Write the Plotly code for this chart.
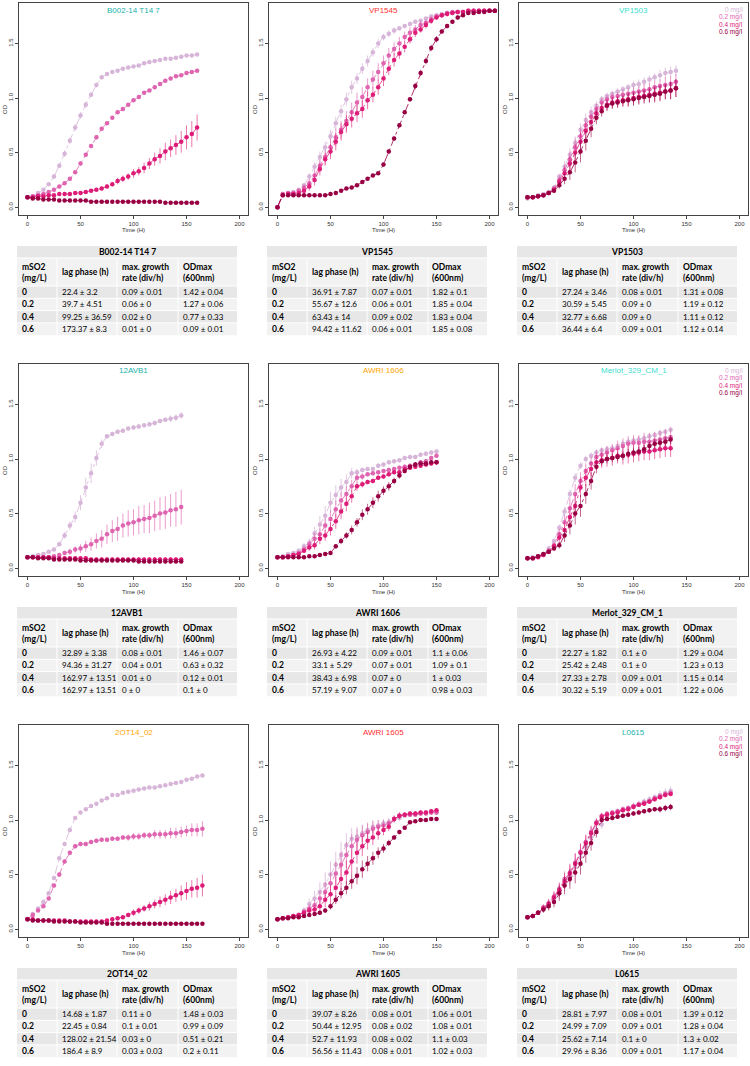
import plotly.graph_objects as go

W, H = 750, 1066
SERIES_COLORS = ["#d7b5d8", "#df65b0", "#dd1c77", "#980043"]
ERR_COLORS = ["rgba(215,181,216,0.75)", "rgba(223,101,176,0.65)", "rgba(221,28,119,0.6)", "rgba(152,0,67,0.6)"]
conc_labels = ["0 mg/l", "0.2 mg/l", "0.4 mg/l", "0.6 mg/l"]
row_labels = ["0", "0.2", "0.4", "0.6"]
x_ticks = [0, 50, 100, 150, 200]
y_ticks = [0.0, 0.5, 1.0, 1.5]
y_ticktext = ["0.0", "0.5", "1.0", "1.5"]

# ---------------- B002-14 T14 7 ----------------
t_B002 = [0,5,10,15,20,25,30,35,40,45,50,55,60,65,70,75,80,85,90,95,100,105,110,115,120,125,130,135,140,145,150,155,160]
B002_0 = [0.09,0.10,0.13,0.16,0.21,0.28,0.38,0.49,0.61,0.73,0.84,0.94,1.03,1.12,1.19,1.22,1.24,1.25,1.27,1.28,1.29,1.30,1.32,1.33,1.34,1.35,1.36,1.36,1.37,1.38,1.39,1.39,1.40]
B002_2 = [0.09,0.10,0.11,0.12,0.14,0.16,0.19,0.22,0.26,0.32,0.40,0.48,0.56,0.64,0.72,0.77,0.82,0.87,0.90,0.94,0.98,1.01,1.05,1.07,1.10,1.13,1.16,1.18,1.20,1.21,1.23,1.24,1.25]
B002_4 = [0.09,0.09,0.10,0.10,0.11,0.11,0.12,0.12,0.12,0.13,0.13,0.14,0.15,0.16,0.17,0.19,0.21,0.24,0.26,0.28,0.31,0.33,0.36,0.40,0.44,0.47,0.51,0.54,0.57,0.60,0.64,0.67,0.73]
B002_6 = [0.09,0.08,0.08,0.07,0.07,0.07,0.06,0.06,0.06,0.06,0.06,0.06,0.05,0.05,0.05,0.05,0.05,0.05,0.05,0.05,0.05,0.05,0.05,0.05,0.05,0.05,0.04,0.04,0.04,0.04,0.04,0.04,0.04]
B002_e0 = [0.01,0.01,0.01,0.01,0.01,0.02,0.02,0.03,0.03,0.03,0.03,0.03,0.02,0.02,0.02,0.01,0.01,0.01,0.01,0.01,0.01,0.01,0.01,0.01,0.01,0.01,0.01,0.01,0.01,0.01,0.01,0.01,0.01]
B002_e2 = [0.01,0.01,0.01,0.01,0.01,0.01,0.01,0.01,0.01,0.01,0.02,0.02,0.02,0.02,0.01,0.01,0.01,0.01,0.01,0.01,0.01,0.01,0.01,0.01,0.01,0.01,0.01,0.01,0.01,0.01,0.01,0.01,0.01]
B002_e4 = [0.01,0.01,0.01,0.01,0.01,0.01,0.01,0.01,0.01,0.01,0.01,0.01,0.01,0.01,0.02,0.02,0.02,0.03,0.03,0.03,0.04,0.04,0.05,0.05,0.06,0.07,0.08,0.08,0.09,0.10,0.11,0.12,0.12]
B002_e6 = [0.005,0.005,0.005,0.005,0.005,0.005,0.005,0.005,0.005,0.005,0.005,0.005,0.005,0.005,0.005,0.005,0.005,0.005,0.005,0.005,0.005,0.005,0.005,0.005,0.005,0.005,0.005,0.005,0.005,0.005,0.005,0.005,0.005]

# ---------------- VP1545 ----------------
t_VP1545 = [0,5,10,15,20,25,30,35,40,45,50,55,60,65,70,75,80,85,90,95,100,105,110,115,120,125,130,135,140,145,150,155,160,165,170,175,180,185,190,195,200,205]
VP1545_0 = [0.00,0.12,0.13,0.14,0.16,0.20,0.28,0.37,0.46,0.55,0.65,0.77,0.88,0.99,1.10,1.18,1.27,1.34,1.42,1.50,1.56,1.59,1.62,1.64,1.66,1.68,1.70,1.71,1.73,1.75,1.76,1.77,1.78,1.78,1.79,1.79,1.79,1.79,1.80,1.80,1.80,1.80]
VP1545_2 = [0.00,0.12,0.13,0.13,0.15,0.18,0.22,0.29,0.38,0.46,0.55,0.64,0.71,0.79,0.87,0.96,1.01,1.10,1.17,1.24,1.32,1.39,1.45,1.50,1.56,1.60,1.63,1.67,1.69,1.72,1.75,1.76,1.78,1.79,1.79,1.79,1.80,1.80,1.80,1.80,1.80,1.80]
VP1545_4 = [0.00,0.11,0.12,0.12,0.13,0.15,0.19,0.25,0.35,0.44,0.51,0.60,0.69,0.76,0.81,0.86,0.90,0.98,1.03,1.10,1.18,1.27,1.35,1.41,1.47,1.54,1.60,1.63,1.67,1.71,1.74,1.76,1.77,1.78,1.79,1.79,1.80,1.80,1.80,1.80,1.80,1.80]
VP1545_6 = [0.00,0.11,0.11,0.11,0.11,0.11,0.11,0.11,0.11,0.11,0.12,0.13,0.15,0.17,0.18,0.20,0.23,0.26,0.29,0.31,0.39,0.51,0.63,0.75,0.87,0.99,1.11,1.23,1.34,1.46,1.54,1.61,1.66,1.70,1.74,1.76,1.78,1.78,1.79,1.79,1.80,1.80]
VP1545_e0 = [0.00,0.01,0.01,0.01,0.01,0.02,0.03,0.04,0.05,0.05,0.06,0.06,0.06,0.06,0.06,0.05,0.05,0.05,0.04,0.04,0.03,0.03,0.03,0.02,0.02,0.02,0.02,0.02,0.01,0.01,0.01,0.01,0.01,0.01,0.01,0.01,0.01,0.01,0.01,0.01,0.01,0.01]
VP1545_e2 = [0.00,0.01,0.01,0.01,0.02,0.03,0.04,0.05,0.06,0.07,0.08,0.08,0.08,0.09,0.09,0.09,0.09,0.08,0.08,0.08,0.07,0.07,0.06,0.06,0.05,0.05,0.04,0.04,0.03,0.03,0.02,0.02,0.02,0.01,0.01,0.01,0.01,0.01,0.01,0.01,0.01,0.01]
VP1545_e4 = [0.00,0.01,0.01,0.01,0.02,0.03,0.04,0.05,0.06,0.06,0.07,0.08,0.08,0.08,0.08,0.08,0.08,0.08,0.07,0.07,0.07,0.06,0.06,0.05,0.05,0.04,0.04,0.03,0.03,0.03,0.02,0.02,0.02,0.01,0.01,0.01,0.01,0.01,0.01,0.01,0.01,0.01]
VP1545_e6 = [0.00,0.01,0.01,0.01,0.01,0.01,0.01,0.01,0.01,0.01,0.01,0.01,0.01,0.01,0.01,0.01,0.01,0.01,0.01,0.01,0.02,0.02,0.02,0.02,0.02,0.02,0.03,0.03,0.03,0.03,0.03,0.02,0.02,0.02,0.02,0.01,0.01,0.01,0.01,0.01,0.01,0.01]

# ---------------- VP1503 ----------------
t_VP1503 = [0,5,10,15,20,25,30,35,40,45,50,55,60,65,70,75,80,85,90,95,100,105,110,115,120,125,130,135,140]
VP1503_0 = [0.08,0.09,0.11,0.12,0.14,0.18,0.28,0.37,0.48,0.59,0.71,0.80,0.87,0.93,0.99,1.02,1.04,1.06,1.08,1.10,1.12,1.13,1.15,1.17,1.19,1.21,1.23,1.24,1.25]
VP1503_2 = [0.09,0.09,0.10,0.11,0.13,0.17,0.25,0.34,0.44,0.55,0.65,0.75,0.83,0.90,0.96,0.99,1.01,1.02,1.03,1.04,1.05,1.06,1.07,1.08,1.10,1.11,1.12,1.13,1.15]
VP1503_4 = [0.09,0.09,0.10,0.11,0.13,0.16,0.23,0.31,0.40,0.50,0.60,0.70,0.78,0.86,0.91,0.94,0.96,0.97,0.98,0.99,1.00,1.01,1.02,1.03,1.04,1.05,1.06,1.07,1.09]
VP1503_6 = [0.09,0.09,0.10,0.11,0.13,0.15,0.20,0.26,0.32,0.41,0.51,0.61,0.72,0.82,0.88,0.93,0.95,0.96,0.97,0.98,0.99,1.00,1.01,1.02,1.03,1.04,1.06,1.07,1.09]
VP1503_e0 = [0.01,0.01,0.01,0.01,0.01,0.02,0.03,0.05,0.06,0.06,0.06,0.06,0.05,0.04,0.03,0.03,0.03,0.03,0.03,0.03,0.04,0.04,0.04,0.04,0.04,0.05,0.05,0.05,0.05]
VP1503_e2 = [0.01,0.01,0.01,0.01,0.01,0.02,0.04,0.05,0.07,0.08,0.08,0.07,0.06,0.05,0.04,0.04,0.04,0.04,0.05,0.05,0.05,0.05,0.06,0.06,0.06,0.06,0.07,0.07,0.07]
VP1503_e4 = [0.01,0.01,0.01,0.01,0.01,0.02,0.04,0.06,0.07,0.08,0.09,0.08,0.07,0.06,0.05,0.05,0.05,0.05,0.05,0.06,0.06,0.06,0.06,0.07,0.07,0.07,0.07,0.08,0.08]
VP1503_e6 = [0.01,0.01,0.01,0.01,0.01,0.02,0.03,0.05,0.07,0.09,0.10,0.09,0.08,0.06,0.05,0.05,0.05,0.05,0.05,0.06,0.06,0.06,0.06,0.06,0.07,0.07,0.07,0.08,0.08]

# ---------------- 12AVB1 ----------------
t_12AVB1 = [0,5,10,15,20,25,30,35,40,45,50,55,60,65,70,75,80,85,90,95,100,105,110,115,120,125,130,135,140,145]
AVB1_0 = [0.10,0.11,0.12,0.13,0.15,0.17,0.22,0.30,0.39,0.47,0.60,0.74,0.87,1.01,1.14,1.21,1.23,1.25,1.26,1.28,1.29,1.30,1.31,1.32,1.33,1.35,1.36,1.37,1.38,1.40]
AVB1_2 = [0.10,0.10,0.10,0.10,0.10,0.11,0.12,0.14,0.15,0.17,0.18,0.20,0.22,0.25,0.27,0.31,0.34,0.36,0.39,0.41,0.42,0.44,0.45,0.46,0.48,0.50,0.51,0.53,0.54,0.56]
AVB1_4 = [0.10,0.10,0.10,0.10,0.10,0.09,0.09,0.09,0.09,0.09,0.09,0.09,0.08,0.08,0.08,0.08,0.08,0.08,0.08,0.08,0.08,0.08,0.08,0.08,0.08,0.08,0.08,0.08,0.08,0.08]
AVB1_6 = [0.10,0.10,0.09,0.09,0.09,0.08,0.08,0.08,0.08,0.08,0.07,0.07,0.07,0.07,0.07,0.07,0.07,0.07,0.07,0.07,0.07,0.06,0.06,0.06,0.06,0.06,0.06,0.06,0.06,0.06]
AVB1_e0 = [0.01,0.01,0.01,0.01,0.01,0.01,0.02,0.03,0.04,0.05,0.07,0.09,0.09,0.07,0.04,0.02,0.02,0.02,0.02,0.02,0.02,0.02,0.02,0.02,0.02,0.02,0.02,0.03,0.03,0.03]
AVB1_e2 = [0.01,0.01,0.01,0.01,0.01,0.01,0.02,0.02,0.03,0.03,0.04,0.05,0.06,0.07,0.08,0.09,0.10,0.11,0.11,0.12,0.12,0.13,0.13,0.14,0.14,0.15,0.15,0.15,0.16,0.16]
AVB1_e4 = [0.01,0.01,0.01,0.01,0.01,0.01,0.01,0.01,0.02,0.02,0.02,0.02,0.02,0.02,0.02,0.02,0.02,0.02,0.02,0.02,0.02,0.02,0.02,0.02,0.02,0.02,0.02,0.02,0.02,0.02]
AVB1_e6 = [0.01,0.01,0.01,0.01,0.01,0.01,0.01,0.01,0.01,0.01,0.01,0.01,0.01,0.01,0.01,0.01,0.01,0.01,0.01,0.01,0.01,0.01,0.01,0.01,0.01,0.01,0.01,0.01,0.01,0.01]

# ---------------- AWRI 1606 ----------------
t_AWRI1606 = [0,5,10,15,20,25,30,35,40,45,50,55,60,65,70,75,80,85,90,95,100,105,110,115,120,125,130,135,140,145,150]
A1606_0 = [0.10,0.11,0.13,0.14,0.16,0.20,0.23,0.32,0.40,0.48,0.60,0.67,0.74,0.79,0.87,0.88,0.90,0.91,0.91,0.94,0.95,0.97,0.98,0.99,1.01,1.02,1.02,1.04,1.05,1.06,1.07]
A1606_2 = [0.10,0.10,0.11,0.12,0.14,0.17,0.22,0.27,0.31,0.39,0.45,0.54,0.62,0.68,0.75,0.83,0.84,0.86,0.87,0.88,0.89,0.90,0.91,0.92,0.93,0.94,0.95,0.97,0.98,1.01,1.03]
A1606_4 = [0.10,0.10,0.11,0.12,0.13,0.16,0.19,0.21,0.27,0.30,0.36,0.43,0.52,0.59,0.66,0.75,0.77,0.79,0.80,0.83,0.84,0.86,0.88,0.88,0.91,0.92,0.93,0.94,0.95,0.96,0.97]
A1606_6 = [0.10,0.10,0.10,0.10,0.10,0.10,0.11,0.11,0.12,0.13,0.14,0.20,0.25,0.30,0.35,0.42,0.49,0.54,0.60,0.66,0.71,0.75,0.80,0.85,0.89,0.93,0.95,0.96,0.96,0.97,0.97]
A1606_e0 = [0.01,0.01,0.01,0.01,0.02,0.03,0.04,0.06,0.08,0.09,0.10,0.09,0.08,0.07,0.05,0.03,0.02,0.02,0.02,0.02,0.02,0.02,0.02,0.02,0.02,0.02,0.02,0.02,0.02,0.02,0.02]
A1606_e2 = [0.01,0.01,0.01,0.01,0.02,0.03,0.04,0.05,0.06,0.07,0.08,0.08,0.08,0.07,0.06,0.04,0.03,0.02,0.02,0.02,0.02,0.02,0.02,0.02,0.02,0.02,0.02,0.02,0.02,0.02,0.02]
A1606_e4 = [0.01,0.01,0.01,0.01,0.01,0.02,0.03,0.04,0.05,0.05,0.06,0.07,0.07,0.07,0.06,0.04,0.03,0.02,0.02,0.02,0.02,0.02,0.02,0.02,0.02,0.02,0.02,0.02,0.02,0.02,0.02]
A1606_e6 = [0.01,0.01,0.01,0.01,0.01,0.01,0.01,0.01,0.01,0.01,0.02,0.02,0.03,0.03,0.04,0.04,0.05,0.05,0.05,0.05,0.04,0.04,0.03,0.03,0.02,0.02,0.02,0.02,0.02,0.02,0.02]

# ---------------- Merlot_329_CM_1 ----------------
t_Merlot = [0,5,10,15,20,25,30,35,40,45,50,55,60,65,70,75,80,85,90,95,100,105,110,115,120,125,130,135]
Merlot_0 = [0.09,0.10,0.11,0.13,0.18,0.25,0.37,0.52,0.68,0.83,0.94,1.00,1.03,1.06,1.08,1.09,1.10,1.12,1.14,1.16,1.17,1.18,1.19,1.21,1.22,1.24,1.25,1.27]
Merlot_2 = [0.09,0.09,0.11,0.12,0.16,0.21,0.31,0.42,0.55,0.68,0.80,0.89,0.96,1.02,1.04,1.06,1.08,1.10,1.12,1.14,1.15,1.15,1.16,1.16,1.17,1.18,1.19,1.20]
Merlot_4 = [0.09,0.09,0.10,0.12,0.15,0.20,0.28,0.35,0.47,0.57,0.74,0.83,0.91,0.97,0.99,1.00,1.01,1.03,1.03,1.04,1.05,1.06,1.07,1.07,1.08,1.09,1.10,1.10]
Merlot_6 = [0.09,0.09,0.11,0.13,0.15,0.18,0.21,0.30,0.39,0.50,0.57,0.68,0.80,0.93,0.98,1.00,1.01,1.02,1.03,1.05,1.06,1.07,1.09,1.12,1.14,1.15,1.16,1.18]
Merlot_e0 = [0.01,0.01,0.01,0.01,0.02,0.02,0.03,0.04,0.04,0.04,0.03,0.03,0.03,0.03,0.03,0.03,0.03,0.03,0.03,0.03,0.03,0.03,0.03,0.03,0.03,0.03,0.03,0.03]
Merlot_e2 = [0.01,0.01,0.01,0.01,0.02,0.03,0.05,0.07,0.09,0.09,0.08,0.07,0.06,0.06,0.06,0.06,0.06,0.07,0.07,0.07,0.07,0.07,0.08,0.08,0.08,0.08,0.08,0.08]
Merlot_e4 = [0.01,0.01,0.01,0.01,0.02,0.03,0.05,0.07,0.09,0.10,0.09,0.08,0.07,0.07,0.07,0.07,0.07,0.07,0.08,0.08,0.08,0.08,0.08,0.08,0.08,0.08,0.08,0.08]
Merlot_e6 = [0.01,0.01,0.01,0.01,0.02,0.02,0.03,0.06,0.08,0.10,0.10,0.09,0.08,0.06,0.04,0.04,0.04,0.04,0.04,0.04,0.04,0.04,0.04,0.04,0.04,0.04,0.04,0.04]

# ---------------- 2OT14_02 ----------------
t_2OT14 = [0,5,10,15,20,25,30,35,40,45,50,55,60,65,70,75,80,85,90,95,100,105,110,115,120,125,130,135,140,145,150,155,160,165]
OT14_0 = [0.09,0.14,0.19,0.25,0.33,0.47,0.65,0.78,0.91,1.02,1.07,1.10,1.13,1.15,1.18,1.20,1.23,1.23,1.25,1.26,1.27,1.28,1.29,1.30,1.30,1.31,1.32,1.33,1.34,1.35,1.37,1.38,1.40,1.41]
OT14_2 = [0.09,0.13,0.17,0.21,0.28,0.40,0.50,0.62,0.70,0.76,0.78,0.78,0.80,0.81,0.82,0.82,0.83,0.83,0.84,0.84,0.85,0.85,0.86,0.86,0.87,0.87,0.87,0.88,0.88,0.89,0.90,0.91,0.91,0.92]
OT14_4 = [0.09,0.09,0.08,0.08,0.08,0.08,0.08,0.08,0.07,0.07,0.07,0.07,0.07,0.07,0.07,0.08,0.09,0.10,0.11,0.13,0.15,0.17,0.19,0.21,0.23,0.25,0.27,0.29,0.31,0.33,0.35,0.37,0.38,0.40]
OT14_6 = [0.09,0.08,0.08,0.08,0.08,0.07,0.07,0.07,0.07,0.07,0.06,0.06,0.06,0.06,0.06,0.05,0.05,0.05,0.05,0.05,0.05,0.05,0.05,0.05,0.05,0.05,0.05,0.05,0.05,0.05,0.05,0.05,0.05,0.05]
OT14_e0 = [0.01,0.01,0.01,0.01,0.02,0.02,0.02,0.02,0.02,0.01,0.01,0.01,0.01,0.01,0.01,0.01,0.01,0.01,0.01,0.01,0.01,0.01,0.01,0.01,0.01,0.01,0.01,0.01,0.01,0.01,0.01,0.01,0.01,0.01]
OT14_e2 = [0.01,0.01,0.01,0.01,0.01,0.02,0.02,0.02,0.02,0.02,0.02,0.02,0.02,0.02,0.02,0.02,0.02,0.02,0.02,0.03,0.03,0.03,0.03,0.03,0.04,0.04,0.04,0.05,0.05,0.05,0.05,0.06,0.06,0.07]
OT14_e4 = [0.01,0.01,0.01,0.01,0.01,0.01,0.01,0.01,0.01,0.01,0.01,0.01,0.01,0.01,0.01,0.01,0.02,0.02,0.02,0.02,0.03,0.03,0.03,0.04,0.04,0.05,0.05,0.06,0.06,0.07,0.08,0.08,0.09,0.10]
OT14_e6 = [0.005,0.005,0.005,0.005,0.005,0.005,0.005,0.005,0.005,0.005,0.005,0.005,0.005,0.005,0.005,0.005,0.005,0.005,0.005,0.005,0.005,0.005,0.005,0.005,0.005,0.005,0.005,0.005,0.005,0.005,0.005,0.005,0.005,0.005]

# ---------------- AWRI 1605 ----------------
t_AWRI1605 = [0,5,10,15,20,25,30,35,40,45,50,55,60,65,70,75,80,85,90,95,100,105,110,115,120,125,130,135,140,145,150]
A1605_0 = [0.09,0.10,0.11,0.12,0.13,0.17,0.23,0.28,0.34,0.41,0.50,0.59,0.68,0.77,0.83,0.85,0.88,0.91,0.94,0.95,0.97,0.98,1.01,1.02,1.04,1.05,1.06,1.06,1.07,1.07,1.07]
A1605_2 = [0.09,0.10,0.11,0.12,0.13,0.16,0.19,0.22,0.28,0.34,0.42,0.51,0.59,0.68,0.76,0.82,0.86,0.89,0.92,0.94,0.95,0.97,1.01,1.04,1.05,1.05,1.05,1.06,1.06,1.07,1.07]
A1605_4 = [0.09,0.10,0.11,0.12,0.13,0.15,0.17,0.18,0.21,0.27,0.32,0.38,0.46,0.52,0.62,0.70,0.76,0.81,0.84,0.88,0.91,0.94,1.01,1.04,1.05,1.06,1.06,1.07,1.07,1.08,1.09]
A1605_6 = [0.09,0.10,0.10,0.11,0.11,0.12,0.13,0.14,0.15,0.17,0.21,0.27,0.33,0.38,0.44,0.49,0.55,0.60,0.65,0.70,0.74,0.79,0.84,0.89,0.93,0.98,0.99,1.00,1.00,1.01,1.01]
A1605_e0 = [0.01,0.01,0.01,0.01,0.02,0.03,0.05,0.07,0.09,0.11,0.12,0.12,0.12,0.11,0.10,0.09,0.08,0.07,0.06,0.05,0.04,0.04,0.03,0.03,0.02,0.02,0.02,0.02,0.02,0.02,0.02]
A1605_e2 = [0.01,0.01,0.01,0.01,0.02,0.02,0.04,0.05,0.07,0.09,0.10,0.11,0.12,0.12,0.11,0.10,0.09,0.08,0.07,0.06,0.05,0.04,0.03,0.03,0.02,0.02,0.02,0.02,0.02,0.02,0.02]
A1605_e4 = [0.01,0.01,0.01,0.01,0.01,0.02,0.03,0.04,0.05,0.07,0.08,0.10,0.11,0.11,0.11,0.10,0.09,0.08,0.07,0.06,0.05,0.04,0.03,0.03,0.02,0.02,0.02,0.02,0.02,0.02,0.02]
A1605_e6 = [0.01,0.01,0.01,0.01,0.01,0.01,0.01,0.01,0.02,0.02,0.03,0.04,0.05,0.06,0.07,0.08,0.08,0.07,0.06,0.05,0.04,0.03,0.02,0.02,0.01,0.01,0.01,0.01,0.01,0.01,0.01]

# ---------------- L0615 ----------------
t_L0615 = [0,5,10,15,20,25,30,35,40,45,50,55,60,65,70,75,80,85,90,95,100,105,110,115,120,125,130,135]
L0615_0 = [0.11,0.12,0.15,0.19,0.23,0.28,0.34,0.42,0.48,0.57,0.66,0.76,0.84,0.91,0.96,1.04,1.06,1.08,1.10,1.11,1.13,1.15,1.17,1.19,1.21,1.23,1.25,1.27]
L0615_2 = [0.11,0.12,0.15,0.20,0.24,0.30,0.37,0.46,0.52,0.61,0.71,0.80,0.89,0.98,1.04,1.06,1.07,1.08,1.10,1.11,1.13,1.14,1.16,1.17,1.20,1.22,1.24,1.25]
L0615_4 = [0.11,0.12,0.15,0.19,0.23,0.29,0.36,0.44,0.51,0.60,0.70,0.79,0.88,0.97,1.03,1.05,1.06,1.07,1.09,1.10,1.12,1.14,1.15,1.17,1.19,1.21,1.23,1.24]
L0615_6 = [0.11,0.12,0.15,0.18,0.21,0.25,0.33,0.40,0.46,0.52,0.60,0.70,0.79,0.89,1.00,1.01,1.02,1.03,1.04,1.05,1.06,1.07,1.08,1.09,1.10,1.10,1.11,1.12]
L0615_e0 = [0.01,0.01,0.02,0.03,0.04,0.05,0.06,0.07,0.08,0.08,0.08,0.07,0.06,0.05,0.04,0.03,0.03,0.03,0.03,0.03,0.03,0.03,0.03,0.03,0.03,0.04,0.04,0.04]
L0615_e2 = [0.01,0.01,0.02,0.03,0.04,0.05,0.06,0.07,0.08,0.09,0.08,0.07,0.06,0.04,0.03,0.02,0.02,0.02,0.02,0.02,0.02,0.02,0.02,0.02,0.02,0.02,0.02,0.02]
L0615_e4 = [0.01,0.01,0.02,0.03,0.04,0.05,0.06,0.07,0.08,0.09,0.08,0.07,0.06,0.04,0.03,0.02,0.02,0.02,0.02,0.02,0.02,0.02,0.02,0.02,0.02,0.02,0.02,0.02]
L0615_e6 = [0.01,0.01,0.02,0.03,0.04,0.05,0.07,0.08,0.09,0.10,0.10,0.09,0.07,0.05,0.03,0.02,0.02,0.02,0.02,0.02,0.02,0.02,0.02,0.02,0.02,0.03,0.03,0.03]

# ---------------- table values ----------------
strain_names = ["B002-14 T14 7", "VP1545", "VP1503", "12AVB1", "AWRI 1606", "Merlot_329_CM_1", "2OT14_02", "AWRI 1605", "L0615"]
title_colors = ["#20B2AA", "#FF3030", "#40E0D0", "#20B2AA", "#FFA500", "#40E0D0", "#FFA500", "#FF3030", "#20B2AA"]
lag_B002 = ["22.4 ± 3.2", "39.7 ± 4.51", "99.25 ± 36.59", "173.37 ± 8.3"]
rate_B002 = ["0.09 ± 0.01", "0.06 ± 0", "0.02 ± 0", "0.01 ± 0"]
odmax_B002 = ["1.42 ± 0.04", "1.27 ± 0.06", "0.77 ± 0.33", "0.09 ± 0.01"]
lag_VP1545 = ["36.91 ± 7.87", "55.67 ± 12.6", "63.43 ± 14", "94.42 ± 11.62"]
rate_VP1545 = ["0.07 ± 0.01", "0.06 ± 0.01", "0.09 ± 0.02", "0.06 ± 0.01"]
odmax_VP1545 = ["1.82 ± 0.1", "1.85 ± 0.04", "1.83 ± 0.04", "1.85 ± 0.08"]
lag_VP1503 = ["27.24 ± 3.46", "30.59 ± 5.45", "32.77 ± 6.68", "36.44 ± 6.4"]
rate_VP1503 = ["0.08 ± 0.01", "0.09 ± 0", "0.09 ± 0", "0.09 ± 0.01"]
odmax_VP1503 = ["1.31 ± 0.08", "1.19 ± 0.12", "1.11 ± 0.12", "1.12 ± 0.14"]
lag_12AVB1 = ["32.89 ± 3.38", "94.36 ± 31.27", "162.97 ± 13.51", "162.97 ± 13.51"]
rate_12AVB1 = ["0.08 ± 0.01", "0.04 ± 0.01", "0.01 ± 0", "0 ± 0"]
odmax_12AVB1 = ["1.46 ± 0.07", "0.63 ± 0.32", "0.12 ± 0.01", "0.1 ± 0"]
lag_AWRI1606 = ["26.93 ± 4.22", "33.1 ± 5.29", "38.43 ± 6.98", "57.19 ± 9.07"]
rate_AWRI1606 = ["0.09 ± 0.01", "0.07 ± 0.01", "0.07 ± 0", "0.07 ± 0"]
odmax_AWRI1606 = ["1.1 ± 0.06", "1.09 ± 0.1", "1 ± 0.03", "0.98 ± 0.03"]
lag_Merlot = ["22.27 ± 1.82", "25.42 ± 2.48", "27.33 ± 2.78", "30.32 ± 5.19"]
rate_Merlot = ["0.1 ± 0", "0.1 ± 0", "0.09 ± 0.01", "0.09 ± 0.01"]
odmax_Merlot = ["1.29 ± 0.04", "1.23 ± 0.13", "1.15 ± 0.14", "1.22 ± 0.06"]
lag_2OT14 = ["14.68 ± 1.87", "22.45 ± 0.84", "128.02 ± 21.54", "186.4 ± 8.9"]
rate_2OT14 = ["0.11 ± 0", "0.1 ± 0.01", "0.03 ± 0", "0.03 ± 0.03"]
odmax_2OT14 = ["1.48 ± 0.03", "0.99 ± 0.09", "0.51 ± 0.21", "0.2 ± 0.11"]
lag_AWRI1605 = ["39.07 ± 8.26", "50.44 ± 12.95", "52.7 ± 11.93", "56.56 ± 11.43"]
rate_AWRI1605 = ["0.08 ± 0.01", "0.08 ± 0.02", "0.08 ± 0.02", "0.08 ± 0.01"]
odmax_AWRI1605 = ["1.06 ± 0.01", "1.08 ± 0.01", "1.1 ± 0.03", "1.02 ± 0.03"]
lag_L0615 = ["28.81 ± 7.97", "24.99 ± 7.09", "25.62 ± 7.14", "29.96 ± 8.36"]
rate_L0615 = ["0.08 ± 0.01", "0.09 ± 0.01", "0.1 ± 0", "0.09 ± 0.01"]
odmax_L0615 = ["1.39 ± 0.12", "1.28 ± 0.04", "1.3 ± 0.02", "1.17 ± 0.04"]

panels = [
    (t_B002, [B002_0, B002_2, B002_4, B002_6], [B002_e0, B002_e2, B002_e4, B002_e6], lag_B002, rate_B002, odmax_B002),
    (t_VP1545, [VP1545_0, VP1545_2, VP1545_4, VP1545_6], [VP1545_e0, VP1545_e2, VP1545_e4, VP1545_e6], lag_VP1545, rate_VP1545, odmax_VP1545),
    (t_VP1503, [VP1503_0, VP1503_2, VP1503_4, VP1503_6], [VP1503_e0, VP1503_e2, VP1503_e4, VP1503_e6], lag_VP1503, rate_VP1503, odmax_VP1503),
    (t_12AVB1, [AVB1_0, AVB1_2, AVB1_4, AVB1_6], [AVB1_e0, AVB1_e2, AVB1_e4, AVB1_e6], lag_12AVB1, rate_12AVB1, odmax_12AVB1),
    (t_AWRI1606, [A1606_0, A1606_2, A1606_4, A1606_6], [A1606_e0, A1606_e2, A1606_e4, A1606_e6], lag_AWRI1606, rate_AWRI1606, odmax_AWRI1606),
    (t_Merlot, [Merlot_0, Merlot_2, Merlot_4, Merlot_6], [Merlot_e0, Merlot_e2, Merlot_e4, Merlot_e6], lag_Merlot, rate_Merlot, odmax_Merlot),
    (t_2OT14, [OT14_0, OT14_2, OT14_4, OT14_6], [OT14_e0, OT14_e2, OT14_e4, OT14_e6], lag_2OT14, rate_2OT14, odmax_2OT14),
    (t_AWRI1605, [A1605_0, A1605_2, A1605_4, A1605_6], [A1605_e0, A1605_e2, A1605_e4, A1605_e6], lag_AWRI1605, rate_AWRI1605, odmax_AWRI1605),
    (t_L0615, [L0615_0, L0615_2, L0615_4, L0615_6], [L0615_e0, L0615_e2, L0615_e4, L0615_e6], lag_L0615, rate_L0615, odmax_L0615),
]

PLOT_FONT = "Liberation Sans, Arial, sans-serif"
TAB_FONT = "Lato, Carlito, sans-serif"
TAB_SIZE = 8
HEAD_SIZE = 8.5

def px(x):
    return x / W

def py(y):
    return 1 - y / H

fig = go.Figure()
layout = {}
annotations = []
shapes = []

for i, (t, ods, sds, lag, rate, odmax) in enumerate(panels):
    r, c = divmod(i, 3)
    ax = "" if i == 0 else str(i + 1)
    ox, oy = 250 * c, 361 * r
    for k in range(4):
        fig.add_trace(go.Scatter(
            x=t, y=ods[k], mode="lines+markers", xaxis="x" + ax, yaxis="y" + ax,
            line=dict(color=SERIES_COLORS[k], width=0.8, dash="dashdot"),
            marker=dict(color=SERIES_COLORS[k], size=4.5, line=dict(width=0)),
            error_y=dict(type="data", array=sds[k], visible=True, color=ERR_COLORS[k], thickness=1, width=0),
            showlegend=False, hoverinfo="skip", cliponaxis=False))
    axis_common = dict(showline=True, mirror=True, linecolor="#444", linewidth=1,
                       showgrid=False, zeroline=False, ticks="outside", ticklen=3,
                       tickwidth=1, tickcolor="#444",
                       tickfont=dict(size=6, color="#333", family=PLOT_FONT))
    layout["xaxis" + ax] = dict(axis_common, domain=[px(19 + ox), px(248 + ox)], anchor="y" + ax,
                                range=[-8, 208], tickvals=x_ticks)
    layout["yaxis" + ax] = dict(axis_common, domain=[py(215 + oy), py(3 + oy)], anchor="x" + ax,
                                range=[-0.072, 1.872], tickvals=y_ticks, ticktext=y_ticktext,
                                tickangle=-90)
    annotations.append(dict(text=strain_names[i], x=px(133.5 + ox), y=py(10 + oy), xref="paper", yref="paper",
                            showarrow=False, xanchor="center", yanchor="middle",
                            font=dict(size=8, color=title_colors[i], family=PLOT_FONT)))
    annotations.append(dict(text="Time (H)", x=px(133.5 + ox), y=py(230.5 + oy), xref="paper", yref="paper",
                            showarrow=False, xanchor="center", yanchor="middle",
                            font=dict(size=6, color="#333", family=PLOT_FONT)))
    annotations.append(dict(text="OD", x=px(5 + ox), y=py(109 + oy), xref="paper", yref="paper",
                            showarrow=False, xanchor="center", yanchor="middle", textangle=-90,
                            font=dict(size=6, color="#333", family=PLOT_FONT)))
    if c == 2:
        for k in range(4):
            annotations.append(dict(text=conc_labels[k], x=px(745), y=py(10 + 7.3 * k + oy),
                                    xref="paper", yref="paper", showarrow=False,
                                    xanchor="right", yanchor="middle",
                                    font=dict(size=6.5, color=SERIES_COLORS[k], family=PLOT_FONT)))

    # ---------- table ----------
    xs = [17 + ox, 57 + ox, 117 + ox, 178 + ox, 237 + ox]
    y_top = 246 + oy
    y_title = 258 + oy
    y_head = 286 + oy
    rh = 12.3
    row_b = [y_head + rh * (k + 1) for k in range(4)]
    fills = ["#e7e7e7", "#f2f2f2", "#e7e7e7", "#f2f2f2", "#e7e7e7", "#f2f2f2"]
    bands = [(y_top, y_title), (y_title, y_head)] + [(y_head + rh * k, y_head + rh * (k + 1)) for k in range(4)]
    for b, (ya, yb) in enumerate(bands):
        shapes.append(dict(type="rect", xref="paper", yref="paper", x0=px(xs[0]), x1=px(xs[4]),
                           y0=py(yb), y1=py(ya), fillcolor=fills[b], line=dict(width=0), layer="below"))
    for b in range(1, 6):
        yy = bands[b][0]
        shapes.append(dict(type="line", xref="paper", yref="paper", x0=px(xs[0]), x1=px(xs[4]),
                           y0=py(yy), y1=py(yy), line=dict(color="white", width=1)))
    for xx in xs[1:4]:
        shapes.append(dict(type="line", xref="paper", yref="paper", x0=px(xx), x1=px(xx),
                           y0=py(row_b[-1]), y1=py(y_title), line=dict(color="white", width=1)))
    annotations.append(dict(text="<b>" + strain_names[i] + "</b>", x=px((xs[0] + xs[4]) / 2),
                            y=py((y_top + y_title) / 2), xref="paper", yref="paper", showarrow=False,
                            xanchor="center", yanchor="middle", font=dict(size=HEAD_SIZE, color="#000", family=TAB_FONT)))
    heads = ["<b>mSO2</b><br><b>(mg/L)</b>", "<b>lag phase (h)</b>", "<b>max. growth</b><br><b>rate (div/h)</b>",
             "<b>ODmax</b><br><b>(600nm)</b>"]
    for j in range(4):
        annotations.append(dict(text=heads[j], x=px(xs[j] + 2.5), y=py((y_title + y_head) / 2),
                                xref="paper", yref="paper", showarrow=False, xanchor="left", yanchor="middle",
                                align="left", font=dict(size=HEAD_SIZE, color="#000", family=TAB_FONT)))
    for k in range(4):
        yc = py(y_head + rh * k + rh / 2)
        vals = ["<b>" + row_labels[k] + "</b>", lag[k], rate[k], odmax[k]]
        for j in range(4):
            annotations.append(dict(text=vals[j], x=px(xs[j] + 2.5), y=yc, xref="paper", yref="paper",
                                    showarrow=False, xanchor="left", yanchor="middle",
                                    font=dict(size=HEAD_SIZE if j == 0 else TAB_SIZE, color="#000", family=TAB_FONT)))

fig.update_layout(width=W, height=H, margin=dict(l=0, r=0, t=0, b=0),
                  paper_bgcolor="white", plot_bgcolor="white", showlegend=False,
                  annotations=annotations, shapes=shapes, **layout)
fig.write_html("out.html", config={"displayModeBar": False, "staticPlot": True},
               post_script="document.body.style.margin='0';document.body.style.overflow='hidden';")
